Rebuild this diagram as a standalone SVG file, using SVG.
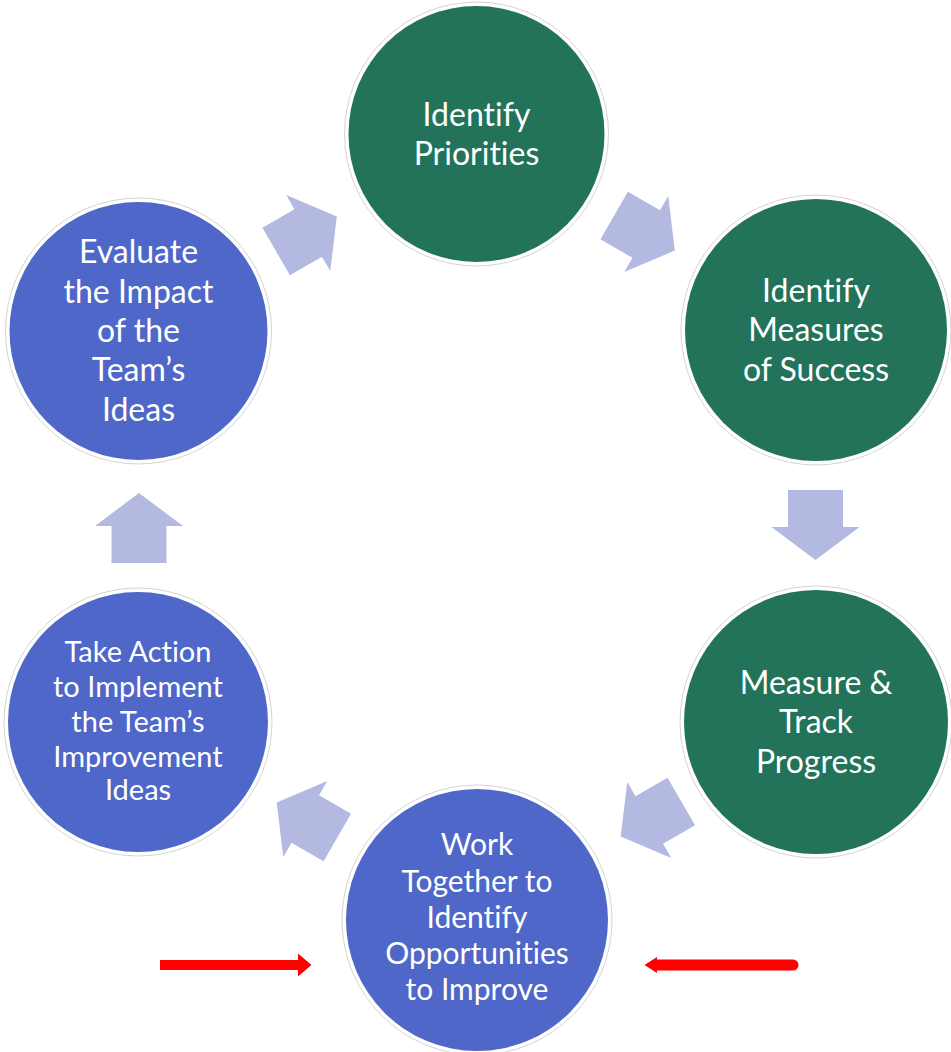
<svg xmlns="http://www.w3.org/2000/svg" width="951" height="1052" viewBox="0 0 951 1052">
<style>
.ring{fill:#ffffff;stroke:#d4d4d4;stroke-width:1}
.green{fill:#22735A}
.blue{fill:#4E67C8}
.arrow{fill:#B3B9E0}
.t{font-family:Lato,"Open Sans",sans-serif;fill:#ffffff;text-anchor:middle;font-variant-ligatures:none;font-feature-settings:"liga" 0}
.red{fill:#FF0000}
</style>
<defs>
<polygon id="blk" points="-35,-27.5 2,-27.5 2,-44 35,0 2,44 2,27.5 -35,27.5"/>
</defs>
<rect width="951" height="1052" fill="#ffffff"/>
<g id="connectors">
<use href="#blk" class="arrow" transform="translate(306.5,234) rotate(-30)"/>
<use href="#blk" class="arrow" transform="translate(644.5,233) rotate(30)"/>
<use href="#blk" class="arrow" transform="translate(815.5,525) rotate(90)"/>
<use href="#blk" class="arrow" transform="translate(651,819) rotate(150)"/>
<use href="#blk" class="arrow" transform="translate(307,820) rotate(210)"/>
<use href="#blk" class="arrow" transform="translate(139,528) rotate(-90)"/>
<polygon class="red" points="160,960 298,960 298,953.5 311.5,965 298,976.5 298,970 160,970"/>
<line x1="793" y1="965" x2="656" y2="965" stroke="#FF0000" stroke-width="11" stroke-linecap="round"/>
<polygon class="red" points="657,957 644.5,965 657,973"/>
</g>
<g id="node-priorities">
<circle class="ring" cx="476.5" cy="134" r="132"/>
<circle class="green" cx="476.5" cy="134" r="128"/>
<text class="t" font-size="32"><tspan x="476.5" y="126">Identify</tspan><tspan x="476.5" y="165">Priorities</tspan></text>
</g>
<g id="node-measures">
<circle class="ring" cx="816" cy="330" r="135"/>
<circle class="green" cx="816" cy="330" r="131"/>
<text class="t" font-size="32"><tspan x="816" y="302">Identify</tspan><tspan x="816" y="341">Measures</tspan><tspan x="816" y="381">of Success</tspan></text>
</g>
<g id="node-track">
<circle class="ring" cx="816" cy="722" r="136"/>
<circle class="green" cx="816" cy="722" r="132"/>
<text class="t" font-size="32"><tspan x="816" y="694">Measure &amp;</tspan><tspan x="816" y="733">Track</tspan><tspan x="816" y="773">Progress</tspan></text>
</g>
<g id="node-work">
<circle class="ring" cx="477" cy="920" r="135"/>
<circle class="blue" cx="477" cy="920" r="131"/>
<text class="t" font-size="30"><tspan x="477" y="855">Work</tspan><tspan x="477" y="892">Together to</tspan><tspan x="477" y="928">Identify</tspan><tspan x="477" y="964">Opportunities</tspan><tspan x="477" y="1000">to Improve</tspan></text>
</g>
<g id="node-action">
<circle class="ring" cx="138" cy="722" r="134"/>
<circle class="blue" cx="138" cy="722" r="130"/>
<text class="t" font-size="29"><tspan x="138" y="662">Take Action</tspan><tspan x="138" y="697">to Implement</tspan><tspan x="138" y="732">the Team’s</tspan><tspan x="138" y="767">Improvement</tspan><tspan x="138" y="800">Ideas</tspan></text>
</g>
<g id="node-evaluate">
<circle class="ring" cx="138.5" cy="331" r="133"/>
<circle class="blue" cx="138.5" cy="331" r="129"/>
<text class="t" font-size="32"><tspan x="138.5" y="263">Evaluate</tspan><tspan x="138.5" y="303">the Impact</tspan><tspan x="138.5" y="342">of the</tspan><tspan x="138.5" y="381">Team’s</tspan><tspan x="138.5" y="421">Ideas</tspan></text>
</g>
</svg>
